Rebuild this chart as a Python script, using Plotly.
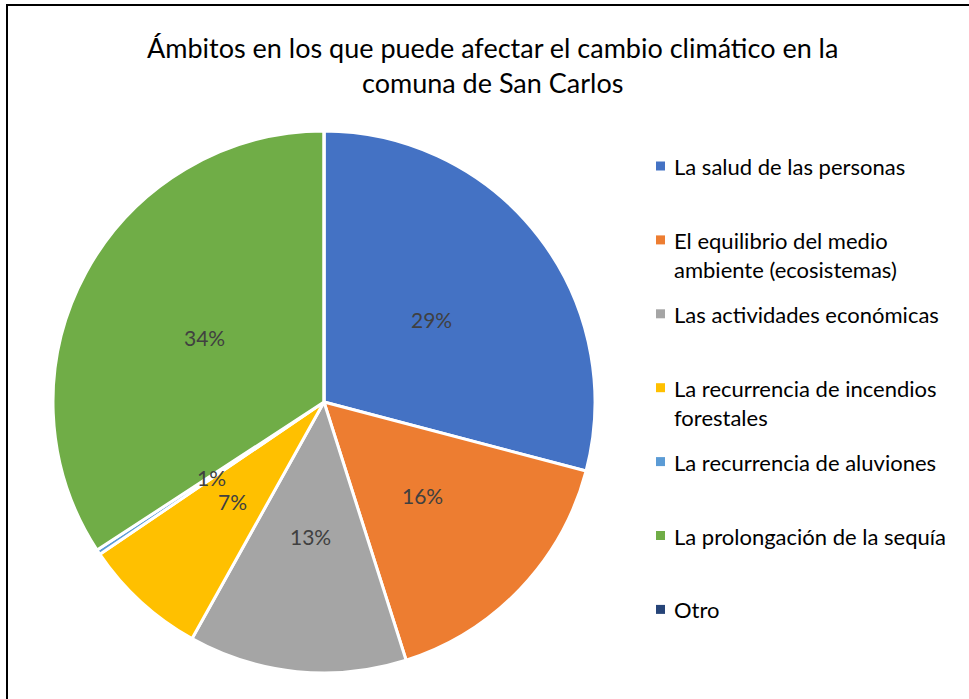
import math
import textwrap
import plotly.graph_objects as go

# --- data ---
labels = [
    "La salud de las personas",
    "El equilibrio del medio ambiente (ecosistemas)",
    "Las actividades económicas",
    "La recurrencia de incendios forestales",
    "La recurrencia de aluviones",
    "La prolongación de la sequía",
    "Otro",
]
shares = [29.1, 16.0, 13.0, 7.4, 0.3, 34.2, 0.0]
pct_labels = ["29%", "16%", "13%", "7%", "1%", "34%", ""]
colors = ["#4472C4", "#ED7D31", "#A5A5A5", "#FFC000", "#5B9BD5", "#70AD47", "#264478"]

title_text = ("Ámbitos en los que puede afectar el cambio climático en la"
              "<br>comuna de San Carlos")

FONT = "Lato, 'Noto Sans', sans-serif"
W, H = 969, 699

# pie placement in pixels (page coords)
cx, cy, R = 324, 402, 271


def px(x):
    return x / W


def py(y):
    return 1 - y / H


fig = go.Figure()
fig.add_trace(go.Pie(
    labels=labels,
    values=shares,
    textinfo="none",
    sort=False,
    direction="clockwise",
    rotation=0,
    marker=dict(colors=colors, line=dict(color="white", width=3)),
    domain=dict(x=[px(cx - R), px(cx + R)], y=[py(cy + R), py(cy - R)]),
    showlegend=False,
    hoverinfo="label+percent",
))

# data labels at half radius on each slice bisector (Excel style)
total = sum(shares)
cum = 0.0
for val, txt in zip(shares, pct_labels):
    mid = (cum + val / 2) / total * 2 * math.pi
    cum += val
    if not txt:
        continue
    fig.add_annotation(
        text=txt, showarrow=False, xref="paper", yref="paper",
        x=px(cx + 0.5 * R * math.sin(mid)), y=py(cy - 0.5 * R * math.cos(mid)),
        xanchor="center", yanchor="middle",
        font=dict(family=FONT, size=21, color="#404040"),
    )

# legend drawn by hand so the item spacing matches the original
leg_top, leg_step = 166, 73.9
for i, (lab, col) in enumerate(zip(labels, colors)):
    yc = leg_top + i * leg_step
    fig.add_shape(type="rect", xref="paper", yref="paper",
                  x0=px(656), x1=px(665), y0=py(yc + 4.5), y1=py(yc - 4.5),
                  fillcolor=col, line=dict(width=0))
    fig.add_annotation(
        text="<br>".join(textwrap.wrap(lab, 28)),
        xref="paper", yref="paper", x=px(672), y=py(yc - 15),
        xanchor="left", yanchor="top", align="left", showarrow=False,
        font=dict(family=FONT, size=22, color="black"),
    )

# title
fig.add_annotation(
    text=title_text, showarrow=False, xref="paper", yref="paper",
    x=px(492), y=py(65), xanchor="center", yanchor="middle", align="center",
    font=dict(family=FONT, size=27, color="black"),
)

# chart frame (right and bottom edges fall outside the crop)
fig.add_shape(type="rect", xref="paper", yref="paper",
              x0=px(7), x1=1.02, y0=-0.02, y1=py(5),
              line=dict(color="black", width=2))

fig.update_layout(
    width=W, height=H,
    margin=dict(l=0, r=0, t=0, b=0),
    paper_bgcolor="white",
    plot_bgcolor="white",
)

fig.write_html("out.html", config={"displayModeBar": False},
               post_script="document.body.style.margin = '0';")
